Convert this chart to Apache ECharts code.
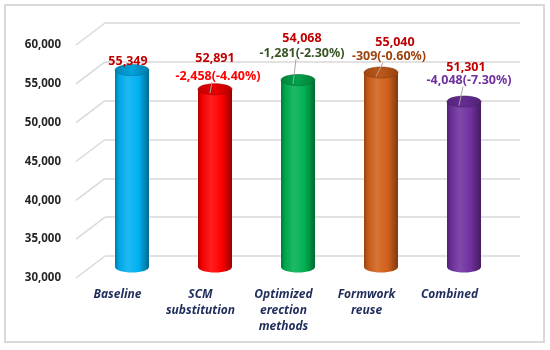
<!DOCTYPE html>
<html>
<head>
<meta charset="utf-8">
<script src="https://cdn.jsdelivr.net/npm/echarts@6/dist/echarts.min.js"></script>
<style>html,body{margin:0;padding:0;background:#fff;}#c{width:550px;height:350px;}</style>
</head>
<body>
<div id="c"></div>
<script>
// ---- data ----
const categories = ['Baseline', 'SCM\nsubstitution', 'Optimized\nerection\nmethods', 'Formwork\nreuse', 'Combined'];
const values = [55349, 52891, 54068, 55040, 51301];
const pctChange = [null, -4.40, -2.30, -0.60, -7.30];
const yTicks = [30000, 35000, 40000, 45000, 50000, 55000, 60000];

// ---- styles / layout ----
const barColors = ['#00b0f0', '#ff0000', '#00b050', '#d0601a', '#7030a0'];
const changeColors = ['#c00000', '#ff0000', '#375623', '#9c4410', '#7030a0'];
const valueLabelOffset = [[-4, -9], [0, -31], [4, -42], [14, -30], [2, -34]];
const changeLabelOffset = [null, [3, -13], [4, -27], [8, -16], [5, -21]];
const DEPTH_X = 29, DEPTH_Y = 22;
const GRID_W = 415, GRID_H = 233, FRONT_LEFT = 76, FRONT_TOP = 45;
const FONT = '"Noto Sans"';

function fmt(n) { return (n < 0 ? '-' : '') + Math.abs(n).toLocaleString('en-US'); }
function shade(hex, amt) {
  const n = parseInt(hex.slice(1), 16);
  let r = n >> 16, g = (n >> 8) & 255, b = n & 255;
  const t = amt < 0 ? 0 : 255, p = Math.abs(amt);
  r = Math.round((t - r) * p + r); g = Math.round((t - g) * p + g); b = Math.round((t - b) * p + b);
  return 'rgb(' + r + ',' + g + ',' + b + ')';
}
function bodyGrad(c) {
  return new echarts.graphic.LinearGradient(0, 0, 1, 0, [
    { offset: 0, color: shade(c, -0.3) },
    { offset: 0.12, color: shade(c, -0.05) },
    { offset: 0.38, color: shade(c, 0.12) },
    { offset: 0.7, color: c },
    { offset: 1, color: shade(c, -0.4) }
  ]);
}
function topGrad(c) {
  return new echarts.graphic.LinearGradient(0, 0, 1, 0, [
    { offset: 0, color: shade(c, -0.25) },
    { offset: 0.5, color: shade(c, -0.08) },
    { offset: 1, color: shade(c, -0.3) }
  ]);
}

const grids = [
  { left: FRONT_LEFT + DEPTH_X, top: FRONT_TOP - DEPTH_Y, width: GRID_W, height: GRID_H },       // back wall
  { left: FRONT_LEFT, top: FRONT_TOP, width: GRID_W, height: GRID_H },                           // front plane
  { left: FRONT_LEFT + DEPTH_X / 2, top: FRONT_TOP - DEPTH_Y / 2, width: GRID_W, height: GRID_H } // mid (bars)
];

const yBase = { type: 'value', min: 30000, max: 60000, interval: 5000 };

const chart = echarts.init(document.getElementById('c'), null, { renderer: 'canvas' });
chart.setOption({
  animation: false,
  graphic: [{
    type: 'rect', shape: { x: 5, y: 5, width: 539, height: 337 },
    style: { fill: 'none', stroke: '#d9d9d9', lineWidth: 2 }, silent: true
  }],
  grid: grids,
  xAxis: [
    { type: 'category', data: categories, gridIndex: 0, show: false },
    { type: 'category', data: categories, gridIndex: 1,
      axisLine: { show: false }, axisTick: { show: false },
      axisLabel: { interval: 0, margin: 9, fontFamily: FONT, fontSize: 12, fontWeight: 'bold', fontStyle: 'italic',
        color: '#1f2d5a', lineHeight: 16, verticalAlign: 'top' } },
    { type: 'category', data: categories, gridIndex: 2, show: false }
  ],
  yAxis: [
    Object.assign({}, yBase, { gridIndex: 0, axisLabel: { show: false }, axisLine: { show: false }, axisTick: { show: false },
      splitLine: { show: true, lineStyle: { color: '#d9d9d9', width: 1.5 } } }),
    Object.assign({}, yBase, { gridIndex: 1, axisLine: { show: false }, axisTick: { show: false }, splitLine: { show: false },
      axisLabel: { margin: 15, fontFamily: FONT, fontSize: 11.5, fontWeight: 'bold', color: '#262626',
        formatter: v => fmt(v) } }),
    Object.assign({}, yBase, { gridIndex: 2, show: false, splitLine: { show: false } })
  ],
  series: [
    {
      type: 'custom', xAxisIndex: 0, yAxisIndex: 0, silent: true,
      data: yTicks.map(v => [0, v]),
      renderItem: function (params, api) {
        const p = api.coord([0, api.value(1)]);
        const x0 = params.coordSys.x;
        return { type: 'line', shape: { x1: x0, y1: p[1], x2: x0 - DEPTH_X, y2: p[1] + DEPTH_Y },
          style: { stroke: '#d9d9d9', lineWidth: 1.5 } };
      }
    },
    {
      type: 'custom', xAxisIndex: 2, yAxisIndex: 2, silent: true,
      data: values.map((v, i) => [i, v]),
      renderItem: function (params, api) {
        const i = params.dataIndex;
        const top = api.coord([i, api.value(1)]);
        const bot = api.coord([i, 30000]);
        const rx = 17, ry = 5.5, cx = top[0];
        const c = barColors[i];
        const children = [
          { type: 'ellipse', shape: { cx: cx, cy: bot[1], rx: rx, ry: ry }, style: { fill: bodyGrad(c) } },
          { type: 'rect', shape: { x: cx - rx, y: top[1], width: 2 * rx, height: bot[1] - top[1] }, style: { fill: bodyGrad(c) } },
          { type: 'ellipse', shape: { cx: cx, cy: top[1], rx: rx, ry: ry }, style: { fill: topGrad(c), stroke: shade(c, -0.35), lineWidth: 0.6 } }
        ];
        const vo = valueLabelOffset[i];
        children.push({ type: 'text', x: cx + vo[0], y: top[1] + vo[1],
          style: { text: fmt(values[i]), fill: '#c00000', font: 'bold 12.5px ' + FONT, align: 'center', verticalAlign: 'middle' } });
        if (pctChange[i] !== null) {
          const co = changeLabelOffset[i];
          const lx = cx + co[0], ly = top[1] + co[1];
          children.push({ type: 'line', shape: { x1: lx - 6, y1: ly + 6, x2: cx - 5, y2: top[1] + 4 },
            style: { stroke: '#a6a6a6', lineWidth: 1 } });
          children.push({ type: 'text', x: lx, y: ly,
            style: { text: fmt(values[i] - values[0]) + '(' + pctChange[i].toFixed(2) + '%)', fill: changeColors[i],
              font: 'bold 12.5px ' + FONT, align: 'center', verticalAlign: 'middle' } });
        }
        return { type: 'group', children: children };
      }
    }
  ]
});
</script>
</body>
</html>
